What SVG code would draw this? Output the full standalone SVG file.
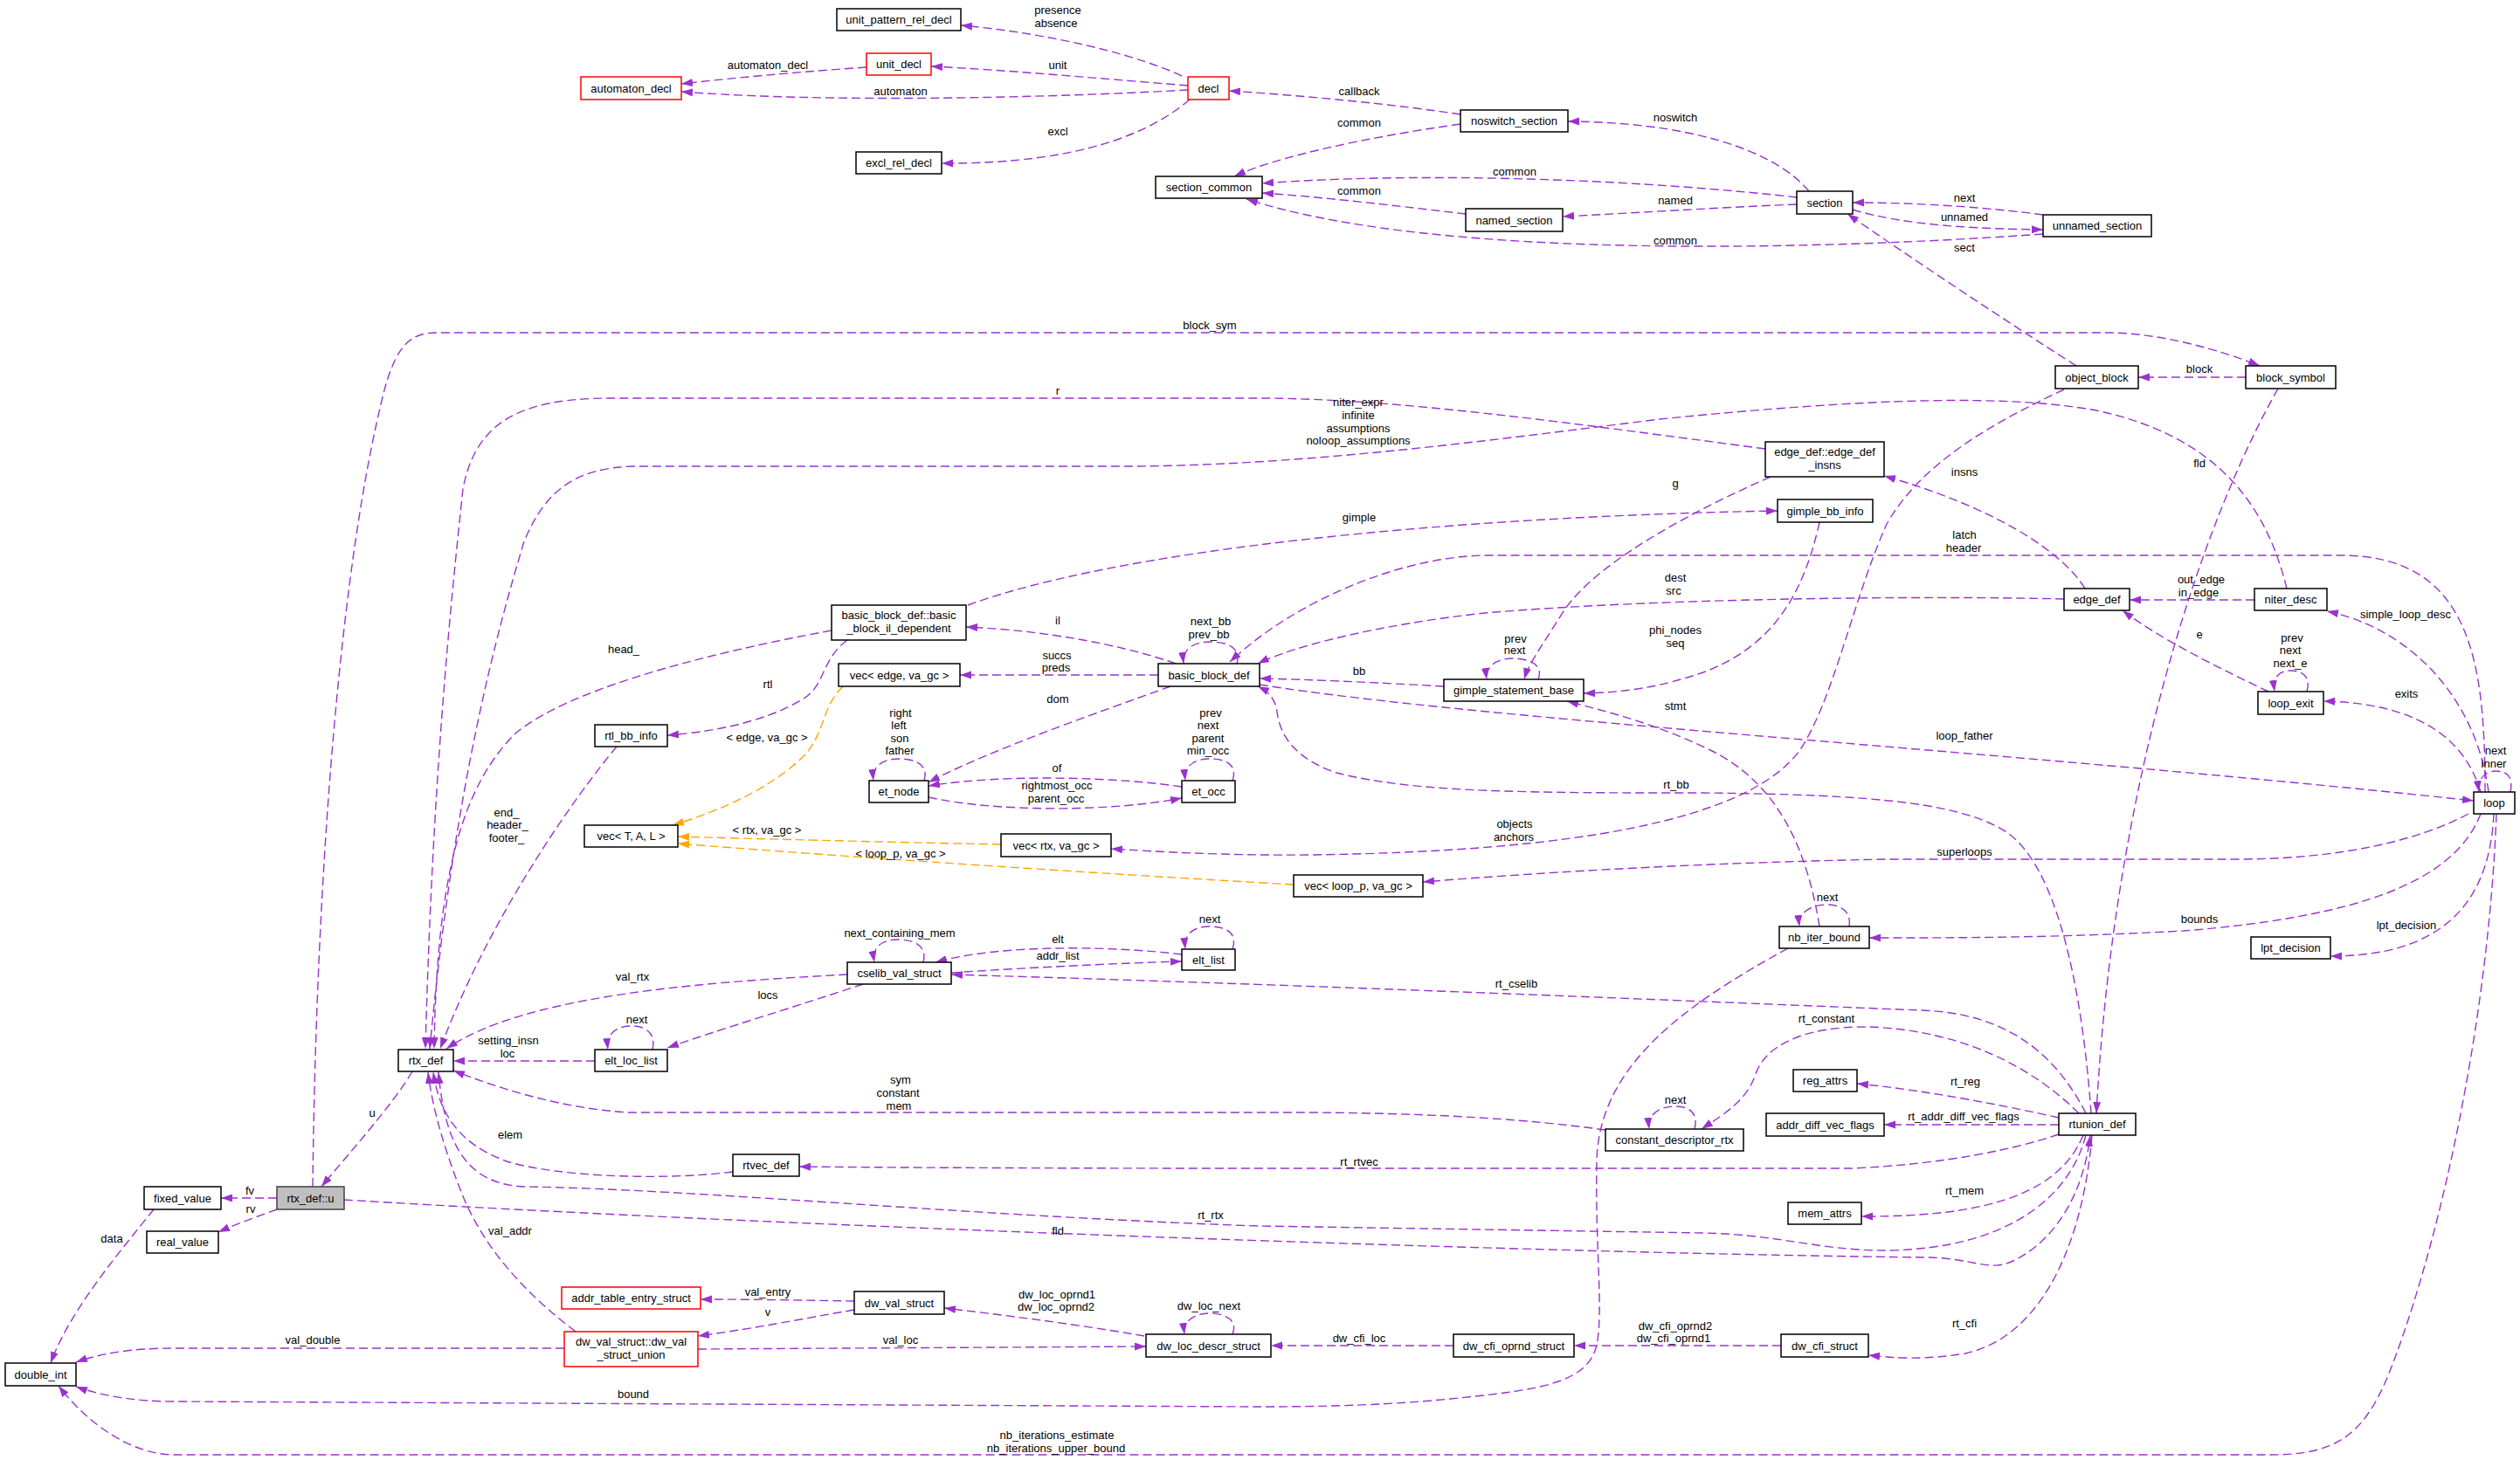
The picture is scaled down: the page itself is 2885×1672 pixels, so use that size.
<svg xmlns="http://www.w3.org/2000/svg" width="2885" height="1672" viewBox="0 0 2885 1672">
<style>
text{font-family:"Liberation Sans",Arial,Helvetica,sans-serif;font-size:13px;fill:#000;text-anchor:middle}
.n rect{fill:#fff;stroke:#000;stroke-width:1.5}
.r rect{stroke:#f00}
.g rect{fill:#bfbfbf;stroke:#404040}
.e{fill:none;stroke:#9a32cd;stroke-width:1.4;stroke-dasharray:10,5;marker-end:url(#ap)}
.o{fill:none;stroke:#ffa500;stroke-width:1.4;stroke-dasharray:10,5;marker-end:url(#ao)}
</style>
<defs>
<marker id="ap" markerUnits="userSpaceOnUse" markerWidth="14" markerHeight="10" refX="13" refY="4.5" orient="auto"><path d="M0,0L13,4.5L0,9z" fill="#9a32cd"/></marker>
<marker id="ao" markerUnits="userSpaceOnUse" markerWidth="14" markerHeight="10" refX="13" refY="4.5" orient="auto"><path d="M0,0L13,4.5L0,9z" fill="#ffa500"/></marker>
</defs>
<rect width="2885" height="1672" fill="#fff"/>
<g id="connectors">
<path class="e" d="M1353,87 C1300,62 1200,38 1100,29"/>
<text x="1211" y="16">presence</text><text x="1209" y="31">absence</text>
<path class="e" d="M1360,98 C1260,90 1150,80 1066,76"/>
<text x="1211" y="79">unit</text>
<path class="e" d="M1360,103 C1200,112 950,118 780,105"/>
<text x="1031" y="109">automaton</text>
<path class="e" d="M992,77 C920,82 850,88 780,96"/>
<text x="879" y="79">automaton_decl</text>
<path class="e" d="M1362,114 C1320,150 1240,188 1078,187"/>
<text x="1211" y="155">excl</text>
<path class="e" d="M1672,131 C1600,120 1500,110 1407,104"/>
<text x="1556" y="109">callback</text>
<path class="e" d="M1672,142 C1560,158 1460,180 1413,202"/>
<text x="1556" y="145">common</text>
<path class="e" d="M2057,226 C1900,208 1650,195 1445,210"/>
<text x="1734" y="201">common</text>
<path class="e" d="M1678,245 C1600,236 1520,226 1445,221"/>
<text x="1556" y="223">common</text>
<path class="e" d="M2339,268 C2100,285 1650,300 1427,228"/>
<text x="1918" y="280">common</text>
<path class="e" d="M2071,219 C2030,170 1930,140 1795,139"/>
<text x="1918" y="139">noswitch</text>
<path class="e" d="M2057,234 C1960,238 1870,244 1789,248"/>
<text x="1918" y="234">named</text>
<path class="e" d="M2339,246 C2280,238 2200,232 2121,232"/>
<text x="2249" y="231">next</text>
<path class="e" d="M2121,240 C2180,258 2260,262 2339,263"/>
<text x="2249" y="253">unnamed</text>
<path class="e" d="M2377,419 C2300,370 2180,290 2115,245"/>
<text x="2249" y="288">sect</text>
<path class="e" d="M2571,432 L2448,432"/>
<text x="2518" y="427">block</text>
<path class="e" d="M358,1359 C362,1000 390,640 441,443 C455,395 470,381 500,381 L2414,381 C2470,381 2540,400 2587,419"/>
<text x="1385" y="377">block_sym</text>
<path class="e" d="M2021,514 C1800,485 1600,456 1440,456 L700,456 C600,456 545,480 530,560 C515,700 495,900 487,1201"/>
<text x="1211" y="452">r</text>
<path class="e" d="M2618,674 C2595,580 2540,500 2400,470 C2300,452 2150,455 1900,480 C1700,505 1500,532 1300,534 L725,534 C660,536 625,560 600,620 C570,720 520,900 492,1201"/>
<text x="1555" y="465">niter_expr</text><text x="1555" y="480">infinite</text><text x="1555" y="495">assumptions</text><text x="1555" y="509">noloop_assumptions</text>
<path class="e" d="M952,722 C800,750 650,790 590,840 C530,900 500,1000 497,1201"/>
<text x="714" y="748">head_</text>
<path class="e" d="M706,855 C660,910 560,1050 504,1201"/>
<text x="580" y="935">end_</text><text x="581" y="949">header_</text><text x="580" y="964">footer_</text>
<path class="e" d="M970,733 C940,755 945,785 920,800 C880,825 820,838 764,842"/>
<text x="879" y="788">rtl</text>
<path class="e" d="M970,1116 C800,1125 600,1140 511,1201"/>
<text x="724" y="1123">val_rtx</text>
<path class="e" d="M472,1227 C450,1265 400,1320 368,1359"/>
<text x="426" y="1279">u</text>
<path class="e" d="M681,1215 L519,1215"/>
<text x="582" y="1196">setting_insn</text><text x="581" y="1211">loc</text>
<path class="e" d="M747,1202 C752,1180 735,1174 720,1175 C705,1176 694,1184 696,1202"/>
<text x="729" y="1172">next</text>
<path class="e" d="M988,1127 C920,1150 820,1180 764,1200"/>
<text x="879" y="1144">locs</text>
<path class="e" d="M1057,1102 C1062,1082 1045,1076 1028,1076 C1010,1076 998,1084 1001,1102"/>
<text x="1030" y="1073">next_containing_mem</text>
<path class="e" d="M1353,1093 C1280,1084 1150,1080 1071,1102"/>
<text x="1211" y="1080">elt</text>
<path class="e" d="M1089,1114 C1180,1108 1280,1103 1353,1101"/>
<text x="1211" y="1099">addr_list</text>
<path class="e" d="M1411,1087 C1418,1066 1400,1061 1385,1061 C1368,1061 1355,1068 1357,1087"/>
<text x="1385" y="1057">next</text>
<path class="e" d="M1416,760 C1422,740 1402,735 1386,735 C1368,735 1353,742 1355,760"/>
<text x="1386" y="716">next_bb</text><text x="1384" y="731">prev_bb</text>
<path class="e" d="M1058,894 C1064,874 1045,869 1030,869 C1012,869 998,876 1000,894"/>
<text x="1031" y="821">right</text><text x="1029" y="835">left</text><text x="1030" y="850">son</text><text x="1030" y="864">father</text>
<path class="e" d="M1411,894 C1418,874 1400,869 1386,869 C1368,869 1355,876 1357,894"/>
<text x="1386" y="821">prev</text><text x="1383" y="835">next</text><text x="1383" y="850">parent</text><text x="1383" y="864">min_occ</text>
<path class="e" d="M1353,901 C1280,890 1150,886 1063,900"/>
<text x="1210" y="884">of</text>
<path class="e" d="M1063,913 C1140,930 1270,930 1353,914"/>
<text x="1210" y="904">rightmost_occ</text><text x="1209" y="919">parent_occ</text>
<path class="e" d="M1340,786 C1260,815 1130,860 1063,896"/>
<text x="1211" y="805">dom</text>
<path class="e" d="M1326,773 L1099,773"/>
<text x="1210" y="755">succs</text><text x="1209" y="769">preds</text>
<path class="e" d="M1346,760 C1290,740 1200,722 1106,718"/>
<text x="1211" y="715">il</text>
<path class="e" d="M1108,693 C1280,630 1650,592 2035,585"/>
<text x="1556" y="597">gimple</text>
<path class="o" d="M965,786 C940,810 945,840 920,866 C880,905 820,930 770,945"/>
<text x="878" y="849">&lt; edge, va_gc &gt;</text>
<path class="o" d="M1146,967 C1000,964 880,961 776,958"/>
<text x="878" y="955">&lt; rtx, va_gc &gt;</text>
<path class="o" d="M1481,1013 C1250,1000 950,980 776,966"/>
<text x="1031" y="982">&lt; loop_p, va_gc &gt;</text>
<path class="e" d="M2826,932 C2770,962 2680,984 2560,984 L2160,984 C1950,988 1780,998 1629,1010"/>
<text x="2249" y="980">superloops</text>
<path class="e" d="M2363,446 C2280,485 2200,530 2160,600 C2120,690 2100,800 2060,860 C2000,940 1800,975 1500,979 C1400,980 1320,975 1272,972"/>
<text x="1734" y="948">objects</text><text x="1733" y="963">anchors</text>
<path class="e" d="M2027,546 C1950,580 1830,640 1790,700 C1765,740 1750,760 1745,778"/>
<text x="1918" y="558">g</text>
<path class="e" d="M1761,778 C1768,760 1748,754 1732,754 C1715,754 1700,762 1702,778"/>
<text x="1735" y="736">prev</text><text x="1734" y="749">next</text>
<path class="e" d="M1653,786 C1580,782 1500,778 1442,777"/>
<text x="1556" y="773">bb</text>
<path class="e" d="M2083,598 C2065,680 2030,740 1950,770 C1900,787 1860,793 1813,794"/>
<text x="1918" y="726">phi_nodes</text><text x="1918" y="741">seq</text>
<path class="e" d="M2363,686 C2200,682 1900,685 1700,702 C1580,715 1480,740 1440,760"/>
<text x="1918" y="666">dest</text><text x="1916" y="681">src</text>
<path class="e" d="M2845,907 C2845,760 2830,636 2680,636 L1700,636 C1600,638 1480,690 1408,758"/>
<text x="2249" y="617">latch</text><text x="2248" y="632">header</text>
<path class="e" d="M2387,674 C2360,630 2280,580 2157,545"/>
<text x="2249" y="545">insns</text>
<path class="e" d="M2581,687 L2438,687"/>
<text x="2520" y="668">out_edge</text><text x="2517" y="683">in_edge</text>
<path class="e" d="M2849,907 C2835,800 2760,720 2664,700"/>
<text x="2754" y="708">simple_loop_desc</text>
<path class="e" d="M2597,792 C2540,765 2470,730 2430,699"/>
<text x="2518" y="731">e</text>
<path class="e" d="M2641,792 C2646,774 2635,768 2622,768 C2608,768 2602,777 2604,792"/>
<text x="2624" y="735">prev</text><text x="2622" y="749">next</text><text x="2622" y="764">next_e</text>
<path class="e" d="M2840,907 C2820,840 2760,805 2660,803"/>
<text x="2755" y="799">exits</text>
<path class="e" d="M2874,907 C2878,888 2868,883 2857,883 C2845,883 2836,892 2838,907"/>
<text x="2857" y="864">next</text><text x="2855" y="879">inner</text>
<path class="e" d="M1442,784 C1700,825 2300,860 2832,917"/>
<text x="2249" y="847">loop_father</text>
<path class="e" d="M2083,1061 C2070,980 2040,900 1960,860 C1900,830 1840,815 1794,803"/>
<text x="1918" y="813">stmt</text>
<path class="e" d="M2117,1061 C2120,1042 2105,1036 2092,1036 C2075,1036 2058,1044 2060,1061"/>
<text x="2092" y="1032">next</text>
<path class="e" d="M2840,932 C2810,1010 2700,1050 2500,1066 C2350,1074 2250,1074 2140,1074"/>
<text x="2518" y="1057">bounds</text>
<path class="e" d="M2855,932 C2850,1040 2790,1095 2668,1095"/>
<text x="2755" y="1064">lpt_decision</text>
<path class="e" d="M2858,932 C2850,1150 2800,1400 2740,1560 C2710,1640 2680,1666 2600,1666 L200,1666 C150,1666 100,1630 67,1587"/>
<text x="1210" y="1648">nb_iterations_estimate</text><text x="1209" y="1663">nb_iterations_upper_bound</text>
<path class="e" d="M2047,1086 C1930,1150 1830,1220 1828,1330 C1826,1430 1836,1500 1828,1540 C1818,1585 1760,1592 1660,1602 C1580,1610 1500,1611 1440,1611 L200,1605 C150,1605 112,1597 87,1588"/>
<text x="725" y="1601">bound</text>
<path class="e" d="M646,1544 L200,1544 C150,1544 115,1550 87,1560"/>
<text x="358" y="1539">val_double</text>
<path class="e" d="M176,1385 C140,1430 80,1500 58,1561"/>
<text x="128" y="1423">data</text>
<path class="e" d="M317,1372 L253,1372"/>
<text x="286" y="1368">fv</text>
<path class="e" d="M317,1385 C295,1393 270,1402 250,1411"/>
<text x="287" y="1389">rv</text>
<path class="e" d="M394,1374 C900,1405 1800,1436 2210,1440 C2260,1442 2275,1455 2300,1446 C2350,1425 2385,1370 2393,1300"/>
<text x="1211" y="1414">fld</text>
<path class="e" d="M2388,1300 C2370,1370 2300,1430 2160,1432 C2080,1432 2040,1414 1950,1412 L1440,1404 C1100,1392 800,1362 600,1359 C540,1356 510,1320 502,1228"/>
<text x="1386" y="1396">rt_rtx</text>
<path class="e" d="M839,1342 C760,1352 640,1348 580,1330 C540,1315 505,1290 496,1228"/>
<text x="584" y="1304">elem</text>
<path class="e" d="M659,1525 C600,1480 555,1430 530,1370 C510,1320 495,1270 490,1228"/>
<text x="584" y="1414">val_addr</text>
<path class="e" d="M1838,1294 C1750,1282 1650,1275 1500,1274 L720,1274 C650,1270 580,1250 519,1226"/>
<text x="1031" y="1241">sym</text><text x="1028" y="1256">constant</text><text x="1029" y="1271">mem</text>
<path class="e" d="M2388,1275 C2350,1200 2290,1160 2200,1157 C1900,1145 1500,1128 1089,1116"/>
<text x="1736" y="1131">rt_cselib</text>
<path class="e" d="M2380,1275 C2330,1225 2250,1180 2140,1176 C2060,1175 2020,1200 2010,1230 C2000,1260 1975,1275 1948,1293"/>
<text x="2091" y="1171">rt_constant</text>
<path class="e" d="M1940,1293 C1945,1273 1932,1267 1918,1267 C1902,1267 1886,1274 1888,1293"/>
<text x="1918" y="1264">next</text>
<path class="e" d="M2357,1280 C2290,1265 2200,1248 2126,1241"/>
<text x="2250" y="1243">rt_reg</text>
<path class="e" d="M2357,1288 L2157,1288"/>
<text x="2248" y="1283">rt_addr_diff_vec_flags</text>
<path class="e" d="M2357,1299 C2310,1315 2230,1333 2120,1338 L1440,1338 C1200,1338 1000,1337 915,1336"/>
<text x="1556" y="1335">rt_rtvec</text>
<path class="e" d="M2385,1300 C2360,1360 2290,1394 2131,1393"/>
<text x="2249" y="1368">rt_mem</text>
<path class="e" d="M2395,1300 C2385,1420 2340,1530 2250,1550 C2200,1558 2170,1555 2139,1552"/>
<text x="2249" y="1520">rt_cfi</text>
<path class="e" d="M2394,1275 C2385,1150 2360,1000 2300,955 C2250,920 2150,910 1950,908 C1750,908 1620,908 1530,885 C1480,868 1465,840 1462,815 C1460,800 1452,792 1440,786"/>
<text x="1919" y="903">rt_bb</text>
<path class="e" d="M2608,445 C2520,600 2420,900 2400,1275"/>
<text x="2518" y="535">fld</text>
<path class="e" d="M978,1490 C920,1489 860,1488 802,1488"/>
<text x="879" y="1484">val_entry</text>
<path class="e" d="M978,1500 C920,1510 860,1522 799,1530"/>
<text x="879" y="1507">v</text>
<path class="e" d="M799,1545 C950,1544 1150,1543 1312,1542"/>
<text x="1031" y="1539">val_loc</text>
<path class="e" d="M1310,1530 C1230,1516 1140,1505 1081,1498"/>
<text x="1210" y="1487">dw_loc_oprnd1</text><text x="1209" y="1501">dw_loc_oprnd2</text>
<path class="e" d="M1411,1528 C1418,1510 1400,1504 1385,1504 C1368,1504 1354,1512 1356,1528"/>
<text x="1384" y="1500">dw_loc_next</text>
<path class="e" d="M1664,1541 L1455,1541"/>
<text x="1556" y="1537">dw_cfi_loc</text>
<path class="e" d="M2039,1541 L1802,1541"/>
<text x="1918" y="1523">dw_cfi_oprnd2</text><text x="1916" y="1537">dw_cfi_oprnd1</text>
</g>
<g id="unit_pattern_rel_decl" class="n"><rect x="958" y="10" width="142" height="25"/><text x="1029" y="27">unit_pattern_rel_decl</text></g>
<g id="unit_decl" class="n r"><rect x="992" y="61" width="74" height="25"/><text x="1029" y="78">unit_decl</text></g>
<g id="automaton_decl" class="n r"><rect x="665" y="88" width="115" height="26"/><text x="722.5" y="105.5">automaton_decl</text></g>
<g id="decl" class="n r"><rect x="1360" y="88" width="47" height="26"/><text x="1383.5" y="105.5">decl</text></g>
<g id="excl_rel_decl" class="n"><rect x="980" y="174" width="98" height="25"/><text x="1029" y="191">excl_rel_decl</text></g>
<g id="section_common" class="n"><rect x="1323" y="202" width="122" height="25"/><text x="1384" y="219">section_common</text></g>
<g id="noswitch_section" class="n"><rect x="1672" y="126" width="123" height="25"/><text x="1733.5" y="143">noswitch_section</text></g>
<g id="named_section" class="n"><rect x="1678" y="239" width="111" height="26"/><text x="1733.5" y="256.5">named_section</text></g>
<g id="section" class="n"><rect x="2057" y="219" width="64" height="26"/><text x="2089" y="236.5">section</text></g>
<g id="unnamed_section" class="n"><rect x="2339" y="246" width="124" height="25"/><text x="2401" y="263">unnamed_section</text></g>
<g id="object_block" class="n"><rect x="2353" y="419" width="95" height="26"/><text x="2400.5" y="436.5">object_block</text></g>
<g id="block_symbol" class="n"><rect x="2571" y="419" width="103" height="26"/><text x="2622.5" y="436.5">block_symbol</text></g>
<g id="edge_def_insns" class="n"><rect x="2021" y="506" width="136" height="40"/><text x="2089" y="521.5">edge_def::edge_def</text><text x="2089" y="536.5">_insns</text></g>
<g id="basic_block_il_dependent" class="n"><rect x="952" y="693" width="154" height="40"/><text x="1029" y="708.5">basic_block_def::basic</text><text x="1029" y="723.5">_block_il_dependent</text></g>
<g id="gimple_bb_info" class="n"><rect x="2035" y="572" width="109" height="26"/><text x="2089.5" y="589.5">gimple_bb_info</text></g>
<g id="rtl_bb_info" class="n"><rect x="681" y="830" width="83" height="25"/><text x="722.5" y="847">rtl_bb_info</text></g>
<g id="vec_edge" class="n"><rect x="960" y="760" width="139" height="26"/><text x="1029.5" y="777.5">vec&lt; edge, va_gc &gt;</text></g>
<g id="basic_block_def" class="n"><rect x="1326" y="760" width="116" height="26"/><text x="1384" y="777.5">basic_block_def</text></g>
<g id="gimple_statement_base" class="n"><rect x="1653" y="778" width="160" height="25"/><text x="1733" y="795">gimple_statement_base</text></g>
<g id="edge_def" class="n"><rect x="2363" y="674" width="75" height="25"/><text x="2400.5" y="691">edge_def</text></g>
<g id="niter_desc" class="n"><rect x="2581" y="674" width="83" height="25"/><text x="2622.5" y="691">niter_desc</text></g>
<g id="loop_exit" class="n"><rect x="2585" y="792" width="75" height="26"/><text x="2622.5" y="809.5">loop_exit</text></g>
<g id="loop" class="n"><rect x="2832" y="907" width="47" height="25"/><text x="2855.5" y="924">loop</text></g>
<g id="et_node" class="n"><rect x="995" y="894" width="68" height="25"/><text x="1029" y="911">et_node</text></g>
<g id="et_occ" class="n"><rect x="1353" y="894" width="61" height="25"/><text x="1383.5" y="911">et_occ</text></g>
<g id="vec_T_A_L" class="n"><rect x="669" y="945" width="107" height="25"/><text x="722.5" y="962">vec&lt; T, A, L &gt;</text></g>
<g id="vec_rtx" class="n"><rect x="1146" y="955" width="126" height="26"/><text x="1209" y="972.5">vec&lt; rtx, va_gc &gt;</text></g>
<g id="vec_loop_p" class="n"><rect x="1481" y="1002" width="148" height="25"/><text x="1555" y="1019">vec&lt; loop_p, va_gc &gt;</text></g>
<g id="nb_iter_bound" class="n"><rect x="2037" y="1061" width="103" height="25"/><text x="2088.5" y="1078">nb_iter_bound</text></g>
<g id="lpt_decision" class="n"><rect x="2577" y="1073" width="91" height="25"/><text x="2622.5" y="1090">lpt_decision</text></g>
<g id="elt_list" class="n"><rect x="1353" y="1087" width="61" height="24"/><text x="1383.5" y="1103.5">elt_list</text></g>
<g id="cselib_val_struct" class="n"><rect x="970" y="1102" width="119" height="25"/><text x="1029.5" y="1119">cselib_val_struct</text></g>
<g id="rtx_def" class="n"><rect x="456" y="1202" width="63" height="25"/><text x="487.5" y="1219">rtx_def</text></g>
<g id="elt_loc_list" class="n"><rect x="681" y="1202" width="83" height="25"/><text x="722.5" y="1219">elt_loc_list</text></g>
<g id="reg_attrs" class="n"><rect x="2053" y="1225" width="73" height="25"/><text x="2089.5" y="1242">reg_attrs</text></g>
<g id="addr_diff_vec_flags" class="n"><rect x="2022" y="1275" width="135" height="26"/><text x="2089.5" y="1292.5">addr_diff_vec_flags</text></g>
<g id="rtunion_def" class="n"><rect x="2357" y="1275" width="88" height="25"/><text x="2401" y="1292">rtunion_def</text></g>
<g id="constant_descriptor_rtx" class="n"><rect x="1838" y="1293" width="158" height="25"/><text x="1917" y="1310">constant_descriptor_rtx</text></g>
<g id="rtvec_def" class="n"><rect x="839" y="1322" width="76" height="25"/><text x="877" y="1339">rtvec_def</text></g>
<g id="fixed_value" class="n"><rect x="165" y="1359" width="88" height="26"/><text x="209" y="1376.5">fixed_value</text></g>
<g id="rtx_def_u" class="n g"><rect x="317" y="1359" width="77" height="26"/><text x="355.5" y="1376.5">rtx_def::u</text></g>
<g id="mem_attrs" class="n"><rect x="2047" y="1377" width="84" height="25"/><text x="2089" y="1394">mem_attrs</text></g>
<g id="real_value" class="n"><rect x="168" y="1410" width="82" height="25"/><text x="209" y="1427">real_value</text></g>
<g id="addr_table_entry_struct" class="n r"><rect x="643" y="1474" width="159" height="25"/><text x="722.5" y="1491">addr_table_entry_struct</text></g>
<g id="dw_val_struct" class="n"><rect x="978" y="1479" width="103" height="26"/><text x="1029.5" y="1496.5">dw_val_struct</text></g>
<g id="dw_val_struct_union" class="n r"><rect x="646" y="1525" width="153" height="40"/><text x="722.5" y="1540.5">dw_val_struct::dw_val</text><text x="722.5" y="1555.5">_struct_union</text></g>
<g id="dw_loc_descr_struct" class="n"><rect x="1312" y="1528" width="143" height="26"/><text x="1383.5" y="1545.5">dw_loc_descr_struct</text></g>
<g id="dw_cfi_oprnd_struct" class="n"><rect x="1664" y="1528" width="138" height="26"/><text x="1733" y="1545.5">dw_cfi_oprnd_struct</text></g>
<g id="dw_cfi_struct" class="n"><rect x="2039" y="1528" width="100" height="26"/><text x="2089" y="1545.5">dw_cfi_struct</text></g>
<g id="double_int" class="n"><rect x="6" y="1561" width="81" height="26"/><text x="46.5" y="1578.5">double_int</text></g>
</svg>
